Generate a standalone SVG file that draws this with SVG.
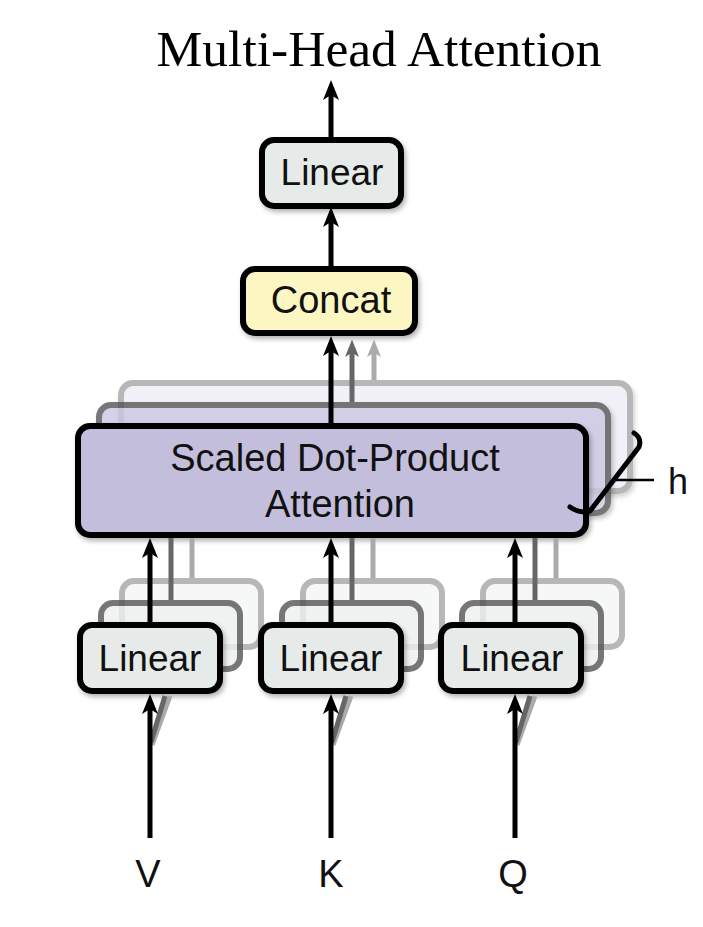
<svg xmlns="http://www.w3.org/2000/svg" width="703" height="927" viewBox="0 0 703 927">
<defs>
<style>
.lbl{font-family:"Liberation Sans",Arial,sans-serif;fill:#111;text-anchor:middle}
.ttl{font-family:"Liberation Serif","Times New Roman",serif;fill:#000;text-anchor:middle}
.box{stroke:#000;stroke-width:6}
.lin{fill:#e6ebe9}
.sh2{stroke:#555;stroke-width:6;opacity:0.8}
.sh3{stroke:#888;stroke-width:6;opacity:0.6}
.conn{fill:none;stroke-width:5}
</style>
<filter id="shadow" x="-10%" y="-10%" width="130%" height="140%">
<feDropShadow dx="2" dy="3" stdDeviation="2.5" flood-color="#000" flood-opacity="0.3"/>
</filter>
<marker id="ahB" markerUnits="userSpaceOnUse" viewBox="0 0 20 16" refX="8" refY="8" markerWidth="20" markerHeight="16" orient="auto">
<path d="M0,0 L20,8 L0,16 L5,8 Z" fill="#000"/>
</marker>
<marker id="ahD" markerUnits="userSpaceOnUse" viewBox="0 0 20 16" refX="8" refY="8" markerWidth="18" markerHeight="14" orient="auto">
<path d="M0,0 L20,8 L0,16 L5,8 Z" fill="#666"/>
</marker>
<marker id="ahL" markerUnits="userSpaceOnUse" viewBox="0 0 20 16" refX="8" refY="8" markerWidth="18" markerHeight="14" orient="auto">
<path d="M0,0 L20,8 L0,16 L5,8 Z" fill="#aaa"/>
</marker>
</defs>
<rect width="703" height="927" fill="#fff"/>

<text class="ttl" x="379" y="66" font-size="51.5">Multi-Head Attention</text>

<!-- attention stack -->
<g id="attention">
<rect x="121" y="383" width="509" height="108" rx="12" fill="#e8e6f3" class="sh3" filter="url(#shadow)"/>
<rect x="99" y="405" width="509" height="108" rx="12" fill="#cbc6e2" class="sh2" filter="url(#shadow)"/>
<rect x="78" y="426" width="508" height="109" rx="12" fill="#c4bedd" class="box" filter="url(#shadow)"/>
<text class="lbl" x="335" y="471" font-size="38">Scaled Dot-Product</text>
<text class="lbl" x="340" y="517" font-size="38">Attention</text>
</g>

<!-- linear stacks -->
<g id="linearV">
<rect x="122" y="581" width="139" height="66" rx="12" fill="#f1f4f3" class="sh3"/>
<rect x="101" y="603" width="139" height="66" rx="12" fill="#eef1f0" class="sh2"/>
<rect x="80" y="625" width="140" height="66" rx="12" class="box lin" filter="url(#shadow)"/>
<text class="lbl" x="150" y="671" font-size="37">Linear</text>
</g>
<g id="linearK">
<rect x="303" y="581" width="139" height="66" rx="12" fill="#f1f4f3" class="sh3"/>
<rect x="282" y="603" width="139" height="66" rx="12" fill="#eef1f0" class="sh2"/>
<rect x="261" y="625" width="140" height="66" rx="12" class="box lin" filter="url(#shadow)"/>
<text class="lbl" x="331" y="671" font-size="37">Linear</text>
</g>
<g id="linearQ">
<rect x="483" y="581" width="139" height="66" rx="12" fill="#f1f4f3" class="sh3"/>
<rect x="462" y="603" width="139" height="66" rx="12" fill="#eef1f0" class="sh2"/>
<rect x="441" y="625" width="140" height="66" rx="12" class="box lin" filter="url(#shadow)"/>
<text class="lbl" x="512" y="671" font-size="37">Linear</text>
</g>

<g id="concat">
<rect x="243" y="269" width="172" height="64" rx="12" fill="#fcf6c2" class="box" filter="url(#shadow)"/>
<text class="lbl" x="331" y="313" font-size="38">Concat</text>
</g>

<g id="linearOut">
<rect x="262" y="140" width="139" height="66" rx="12" class="box lin" filter="url(#shadow)"/>
<text class="lbl" x="332" y="185" font-size="37">Linear</text>
</g>

<g id="connectors">
<!-- output -->
<line x1="331" y1="137" x2="331" y2="92" class="conn" stroke="#000" marker-end="url(#ahB)"/>
<line x1="331" y1="266" x2="331" y2="219" class="conn" stroke="#000" marker-end="url(#ahB)"/>
<!-- attention to concat -->
<line x1="374" y1="380" x2="374" y2="350" class="conn" stroke="#aaa" stroke-width="4" marker-end="url(#ahL)"/>
<line x1="352" y1="402" x2="352" y2="350" class="conn" stroke="#666" stroke-width="4" marker-end="url(#ahD)"/>
<line x1="331" y1="423" x2="331" y2="348" class="conn" stroke="#000" marker-end="url(#ahB)"/>
<!-- linear to attention grey -->
<line x1="192" y1="578" x2="192" y2="538" class="conn" stroke="#aaa"/>
<line x1="171" y1="600" x2="171" y2="538" class="conn" stroke="#666"/>
<line x1="373" y1="578" x2="373" y2="538" class="conn" stroke="#aaa"/>
<line x1="352" y1="600" x2="352" y2="538" class="conn" stroke="#666"/>
<line x1="556" y1="578" x2="556" y2="538" class="conn" stroke="#aaa"/>
<line x1="535" y1="600" x2="535" y2="538" class="conn" stroke="#666"/>
<!-- linear to attention black -->
<line x1="150" y1="622" x2="150" y2="550" class="conn" stroke="#000" marker-end="url(#ahB)"/>
<line x1="331" y1="622" x2="331" y2="550" class="conn" stroke="#000" marker-end="url(#ahB)"/>
<line x1="515" y1="622" x2="515" y2="550" class="conn" stroke="#000" marker-end="url(#ahB)"/>
<!-- input shadows -->
<line x1="152" y1="745" x2="170" y2="696" class="conn" stroke="#aaa" stroke-width="3"/>
<line x1="151" y1="742" x2="165" y2="696" class="conn" stroke="#666" stroke-width="3"/>
<line x1="333" y1="745" x2="351" y2="696" class="conn" stroke="#aaa" stroke-width="3"/>
<line x1="332" y1="742" x2="346" y2="696" class="conn" stroke="#666" stroke-width="3"/>
<line x1="517" y1="745" x2="535" y2="696" class="conn" stroke="#aaa" stroke-width="3"/>
<line x1="516" y1="742" x2="530" y2="696" class="conn" stroke="#666" stroke-width="3"/>
<!-- inputs -->
<line x1="150" y1="838" x2="150" y2="706" class="conn" stroke="#000" marker-end="url(#ahB)"/>
<line x1="331" y1="838" x2="331" y2="706" class="conn" stroke="#000" marker-end="url(#ahB)"/>
<line x1="515" y1="838" x2="515" y2="706" class="conn" stroke="#000" marker-end="url(#ahB)"/>
</g>

<g id="brace">
<path d="M570,507 Q580,514 590,511 L639,447 Q642,438 634,433" fill="none" stroke="#000" stroke-width="5" stroke-linecap="round" stroke-linejoin="round"/>
<line x1="613" y1="480" x2="654" y2="480" stroke="#000" stroke-width="2.5"/>
<text class="lbl" x="678" y="494" font-size="36">h</text>
</g>

<g id="inputs">
<text class="lbl" x="148" y="887" font-size="38">V</text>
<text class="lbl" x="331" y="887" font-size="38">K</text>
<text class="lbl" x="513" y="887" font-size="38">Q</text>
</g>
</svg>
